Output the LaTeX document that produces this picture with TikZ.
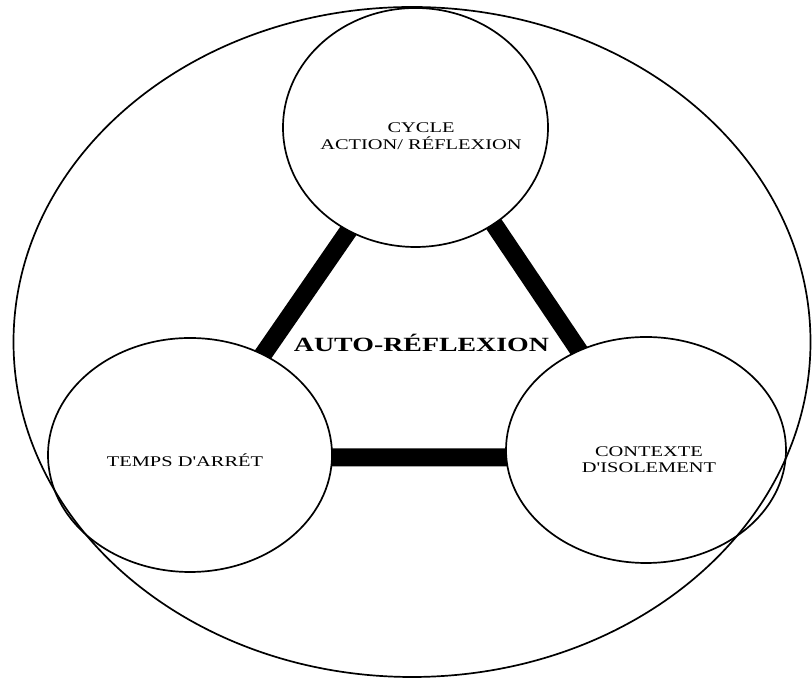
\documentclass[tikz,border=0pt]{standalone}
\usepackage{fontspec}
\setmainfont{Liberation Serif}
\newfontfamily\wideserif[FakeStretch=1.38]{Liberation Serif}
\usetikzlibrary{shapes.geometric,backgrounds}

\begin{document}
\begin{tikzpicture}[x=1pt,y=1pt,
  ring/.style={ellipse, draw, line width=1.7pt, inner sep=0pt, fill=white},
  bar/.style={line width=18pt, line cap=butt, shorten <=-10pt, shorten >=-10pt},
  caption/.style={font=\wideserif\fontsize{14.8}{16.5}\selectfont, align=center, inner sep=0pt},
  heading/.style={font=\wideserif\bfseries\fontsize{20.2}{22}\selectfont, inner sep=0pt}]
\useasboundingbox (0,0) rectangle (812,679);

% the three circles
\node[ring, minimum width=265pt, minimum height=239pt] (cycle) at (415.5,551.5) {};
\node[ring, minimum width=284pt, minimum height=234pt] (pause) at (190,224) {};
\node[ring, minimum width=280pt, minimum height=226pt] (context) at (646,229) {};

% thick links, kept under the circles
\begin{pgfonlayer}{background}
  \draw[bar] (cycle.237.7) -- (pause.54.3);
  \draw[bar] (cycle.-51.2) -- (context.124.6);
  \draw[bar] (pause.-1.6) -- (context.183.7);
\end{pgfonlayer}

% labels
\node[caption] (cycletext) at (421,543) {CYCLE\\ACTION/ RÉFLEXION};
\node[caption] (pausetext) at (185,219) {TEMPS D'ARRÉT};
\node[caption] (contexttext) at (649,219.5) {CONTEXTE\\D'ISOLEMENT};
\node[heading] (centre) at (421.5,336) {AUTO-RÉFLEXION};

% enclosing ellipse
\node[draw, ellipse, line width=1.7pt, inner sep=0pt, minimum width=797pt, minimum height=670pt] (whole) at (412,337) {};
\end{tikzpicture}
\end{document}
